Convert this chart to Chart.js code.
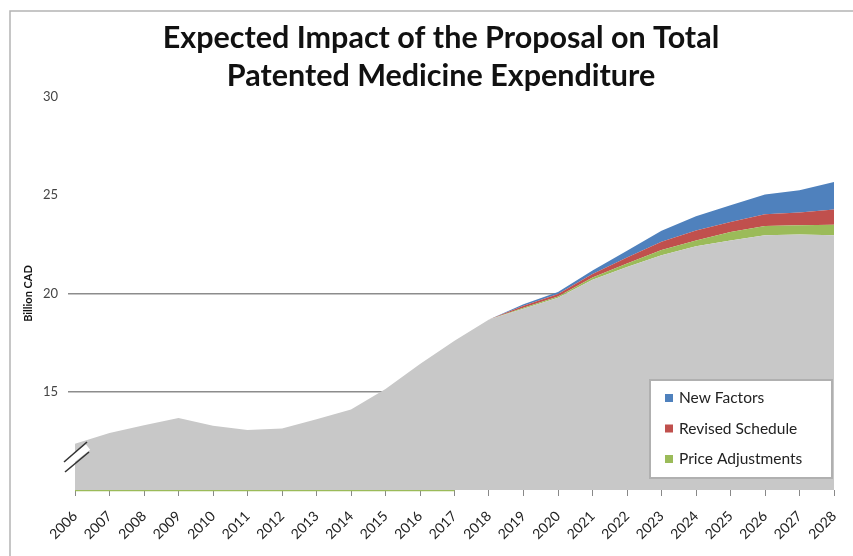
<!DOCTYPE html>
<html>
<head>
<meta charset="utf-8">
<script src="https://cdn.jsdelivr.net/npm/chart.js@4/dist/chart.umd.min.js"></script>
<style>
  html, body { margin: 0; padding: 0; background: #fff; }
  #wrap { width: 853px; height: 556px; position: relative; }
</style>
</head>
<body>
<div id="wrap"><canvas id="c"></canvas></div>
<script>
var years = ['2006','2007','2008','2009','2010','2011','2012','2013','2014','2015','2016','2017',
             '2018','2019','2020','2021','2022','2023','2024','2025','2026','2027','2028']

// billion CAD, base forecast without the proposal's effects
var baseline = [12.35, 12.9, 13.3, 13.66, 13.27, 13.05, 13.13, 13.6, 14.1, 15.14, 16.41, 17.6,
                18.68, 19.22, 19.78, 20.7, 21.35, 21.95, 22.4, 22.7, 22.96, 23.0, 22.96]
var priceAdj = [0, 0, 0, 0, 0, 0, 0, 0, 0, 0, 0, 0,
                0, 0.06, 0.07, 0.12, 0.18, 0.26, 0.3, 0.43, 0.47, 0.47, 0.54]
var revisedSched = [0, 0, 0, 0, 0, 0, 0, 0, 0, 0, 0, 0,
                    0, 0.1, 0.12, 0.17, 0.3, 0.42, 0.5, 0.51, 0.6, 0.65, 0.77]
var newFactors = [0, 0, 0, 0, 0, 0, 0, 0, 0, 0, 0, 0,
                  0, 0.07, 0.1, 0.18, 0.35, 0.56, 0.73, 0.85, 1.01, 1.14, 1.41]
// thin green rule along the axis floor
var floorLine = [10, 10, 10, 10, 10, 10, 10, 10, 10, 10, 10, 10,
                 null, null, null, null, null, null, null, null, null, null, null]

var titleLines = ['Expected Impact of the Proposal on Total', 'Patented Medicine Expenditure']
var yTicks = [10, 15, 20, 25, 30]
var gridShown = [15, 20]

var FONT = 'Lato, "Open Sans", sans-serif'

// title, framed legend box, axis break, outer frame
var extras = {
  id: 'extras',
  afterDraw: function(chart){
    var c = chart.ctx, a = chart.chartArea
    c.save()
    // frame on top and left
    c.strokeStyle = '#b4b4b4'
    c.lineWidth = 1.5
    c.beginPath()
    c.moveTo(10, chart.height); c.lineTo(10, 11); c.lineTo(chart.width, 11)
    c.stroke()

    // title
    c.fillStyle = '#111'
    c.font = 'bold 30.5px ' + FONT
    c.textAlign = 'center'
    c.textBaseline = 'middle'
    titleLines.forEach(function(t, i){ c.fillText(t, 441, 38 + i * 38) })
    c.textAlign = 'left'

    // axis break
    var bx = a.left, by = a.bottom
    c.strokeStyle = '#fff'
    c.lineWidth = 7
    c.beginPath(); c.moveTo(bx - 11, by - 24); c.lineTo(bx + 13, by - 43); c.stroke()
    c.strokeStyle = '#333'
    c.lineWidth = 1.6
    c.beginPath(); c.moveTo(bx - 11, by - 28); c.lineTo(bx + 12, by - 48); c.stroke()
    c.beginPath(); c.moveTo(bx - 10, by - 18); c.lineTo(bx + 14, by - 38); c.stroke()

    // legend
    var lx = a.right - 184, ly = a.bottom - 110, lw = 182, lh = 98
    c.fillStyle = '#fff'
    c.fillRect(lx, ly, lw, lh)
    c.strokeStyle = '#b0b0b0'
    c.lineWidth = 2
    c.strokeRect(lx, ly, lw, lh)
    var items = chart.data.datasets.filter(function(d){ return d.inLegend }).reverse()
    c.font = '15.5px ' + FONT
    items.forEach(function(d, i){
      var yy = ly + 18 + i * 30.5
      c.fillStyle = d.backgroundColor
      c.fillRect(lx + 15, yy - 4, 8, 8)
      c.fillStyle = '#222'
      c.fillText(d.label, lx + 29, yy)
    })
    c.restore()
  }
}

new Chart(document.getElementById('c'), {
  type: 'line',
  data: {
    labels: years,
    datasets: [
      {label: 'Base', data: baseline, backgroundColor: '#c8c8c8', fill: 'origin', stack: 'total'},
      {label: 'Price Adjustments', data: priceAdj, backgroundColor: '#9bbb59', fill: '-1', stack: 'total', inLegend: true},
      {label: 'Revised Schedule', data: revisedSched, backgroundColor: '#c0504d', fill: '-1', stack: 'total', inLegend: true},
      {label: 'New Factors', data: newFactors, backgroundColor: '#4f81bd', fill: '-1', stack: 'total', inLegend: true},
      {label: 'floor', data: floorLine, borderColor: '#9bbb59', borderWidth: 2.5, fill: false, stack: 'floor', clip: 3}
    ].map(function(d){
      d.pointRadius = 0
      d.tension = 0
      if(d.borderWidth === undefined) d.borderWidth = 0
      return d
    })
  },
  options: {
    responsive: true,
    maintainAspectRatio: false,
    animation: false,
    layout: {padding: {left: 18, right: 19, top: 97, bottom: 4}},
    plugins: {
      legend: {display: false},
      tooltip: {enabled: false},
      title: {display: false}
    },
    scales: {
      x: {
        offset: false,
        grid: {display: true, drawOnChartArea: false, tickLength: 6, color: '#888'},
        border: {display: false},
        ticks: {
          minRotation: 45, maxRotation: 45, autoSkip: false,
          font: {family: FONT, size: 14}, color: '#222', padding: 12
        },
        afterFit: function(s){
          s.height = 62
          s.paddingLeft = 0
          s.paddingRight = 0
        }
      },
      y: {
        stacked: true,
        min: 10, max: 30,
        afterBuildTicks: function(s){ s.ticks = yTicks.map(function(v){ return {value: v} }) },
        border: {display: false},
        grid: {
          tickLength: 7,
          lineWidth: 1.5,
          color: function(ctx){ return gridShown.indexOf(ctx.tick && ctx.tick.value) >= 0 ? '#8c8c8c' : 'rgba(0,0,0,0)' }
        },
        ticks: {
          font: {family: FONT, size: 13}, color: '#444', padding: 10,
          callback: function(v){ return v === 10 ? '' : v }
        },
        title: {
          display: true, text: 'Billion CAD',
          font: {family: FONT, size: 11, weight: 'bold'}, color: '#111',
          padding: {top: 4, bottom: 0}
        },
        afterFit: function(s){ s.width = 57 }
      }
    }
  },
  plugins: [extras]
})
</script>
</body>
</html>
